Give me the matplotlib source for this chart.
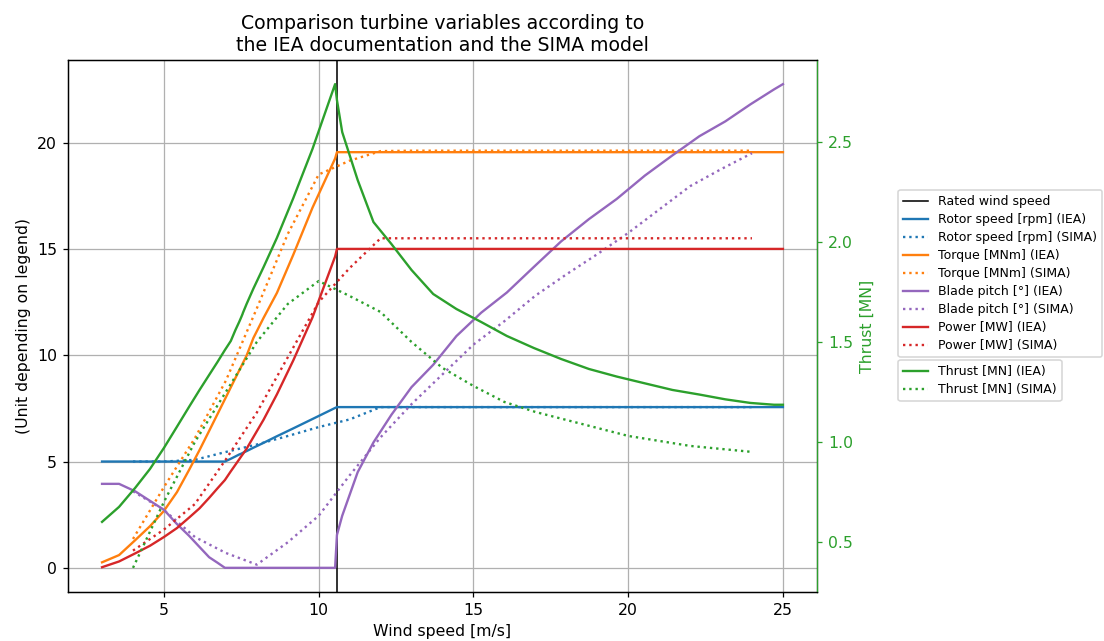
import matplotlib
matplotlib.use('Agg')
from matplotlib import pyplot as plt

# IEA 15 MW documentation (steady state table)
ws_iea = [3.0, 3.55, 4.07, 4.55, 5.0, 5.42, 5.81, 6.15, 6.46, 6.73, 6.97, 7.16, 7.31, 7.43, 7.5,
          7.54, 7.55, 7.67, 7.89, 8.22, 8.65, 9.18, 9.8, 10.53, 10.59, 10.76, 11.26, 11.77, 12.35,
          13.0, 13.7, 14.45, 15.25, 16.08, 16.95, 17.83, 18.73, 19.63, 20.54, 21.43, 22.3, 23.14,
          23.95, 24.71, 25.0]
rotor_iea = [5.0, 5.0, 5.0, 5.0, 5.0, 5.0, 5.0, 5.0, 5.0, 5.0, 5.0, 5.13, 5.24, 5.33, 5.37,
             5.4, 5.41, 5.49, 5.65, 5.88, 6.19, 6.56, 7.0, 7.52, 7.56, 7.56, 7.56, 7.56, 7.56,
             7.56, 7.56, 7.56, 7.56, 7.56, 7.56, 7.56, 7.56, 7.56, 7.56, 7.56, 7.56, 7.56,
             7.56, 7.56, 7.56]
torque_iea = [0.26, 0.6, 1.3, 1.96, 2.68, 3.56, 4.6, 5.54, 6.44, 7.23, 7.93, 8.49, 8.93, 9.28, 9.48,
              9.6, 9.63, 9.98, 10.81, 11.76, 12.93, 14.73, 16.94, 19.25, 19.55, 19.55, 19.55, 19.55, 19.55,
              19.55, 19.55, 19.55, 19.55, 19.55, 19.55, 19.55, 19.55, 19.55, 19.55, 19.55, 19.55, 19.55,
              19.55, 19.55, 19.55]
pitch_iea = [3.95, 3.95, 3.6, 3.15, 2.73, 2.06, 1.51, 0.98, 0.5, 0.24, 0.0, 0.0, 0.0, 0.0, 0.0,
             0.0, 0.0, 0.0, 0.0, 0.0, 0.0, 0.0, 0.0, 0.0, 1.55, 2.45, 4.5, 5.9, 7.2,
             8.5, 9.55, 10.9, 12.0, 12.95, 14.15, 15.35, 16.4, 17.35, 18.45, 19.4, 20.3, 21.0,
             21.8, 22.5, 22.75]
power_iea = [0.03, 0.3, 0.68, 1.04, 1.45, 1.87, 2.36, 2.8, 3.29, 3.74, 4.13, 4.54, 4.85, 5.1, 5.25,
             5.33, 5.35, 5.6, 6.15, 6.97, 8.16, 9.76, 11.78, 14.64, 15.0, 15.0, 15.0, 15.0, 15.0,
             15.0, 15.0, 15.0, 15.0, 15.0, 15.0, 15.0, 15.0, 15.0, 15.0, 15.0, 15.0, 15.0,
             15.0, 15.0, 15.0]
thrust_iea = [0.6, 0.675, 0.77, 0.865, 0.97, 1.076, 1.175, 1.26, 1.335, 1.4, 1.46, 1.505, 1.56, 1.6, 1.625,
              1.64, 1.645, 1.69, 1.767, 1.875, 2.021, 2.22, 2.466, 2.79, 2.71, 2.55, 2.31, 2.1, 1.99,
              1.86, 1.74, 1.665, 1.6, 1.53, 1.47, 1.415, 1.365, 1.327, 1.293, 1.26, 1.237, 1.213,
              1.195, 1.186, 1.186]

# SIMA model
ws_sima = [4, 5, 6, 7, 8, 9, 10, 11, 12, 13, 14, 15, 16, 17, 18, 19, 20, 21, 22, 23, 24]
rotor_sima = [5.0, 5.0, 5.08, 5.45, 5.8, 6.2, 6.62, 6.98, 7.56, 7.56, 7.56, 7.56, 7.56, 7.56,
              7.56, 7.56, 7.56, 7.56, 7.56, 7.56, 7.56]
torque_sima = [1.36, 3.8, 6.1, 8.8, 12.2, 15.7, 18.5, 19.15, 19.6, 19.62, 19.62, 19.62, 19.62, 19.62,
               19.62, 19.62, 19.62, 19.62, 19.62, 19.62, 19.62]
pitch_sima = [3.6, 2.72, 1.45, 0.7, 0.15, 1.2, 2.45, 4.35, 6.14, 7.7, 9.1, 10.5, 11.6, 12.8,
              13.8, 14.75, 15.75, 16.85, 17.95, 18.75, 19.5]
power_sima = [0.81, 1.8, 3.0, 5.1, 7.3, 9.9, 12.5, 14.1, 15.5, 15.5, 15.5, 15.5, 15.5, 15.5,
              15.5, 15.5, 15.5, 15.5, 15.5, 15.5, 15.5]
thrust_sima = [0.37, 0.7, 1.0, 1.25, 1.5, 1.69, 1.805, 1.73, 1.65, 1.5, 1.37, 1.28, 1.2, 1.15,
               1.11, 1.07, 1.03, 1.005, 0.98, 0.965, 0.95]

rated_ws = 10.59

fig, ax = plt.subplots(figsize=(9.77, 5.673), dpi=113)
fig.subplots_adjust(left=0.0616, right=0.740, bottom=0.0764, top=0.9064)

ax.axvline(rated_ws, color='black', linewidth=1, label='Rated wind speed')
ax.plot(ws_iea, rotor_iea, color='tab:blue', label='Rotor speed [rpm] (IEA)')
ax.plot(ws_sima, rotor_sima, ':', color='tab:blue', label='Rotor speed [rpm] (SIMA)')
ax.plot(ws_iea, torque_iea, color='tab:orange', label='Torque [MNm] (IEA)')
ax.plot(ws_sima, torque_sima, ':', color='tab:orange', label='Torque [MNm] (SIMA)')
ax.plot(ws_iea, pitch_iea, color='tab:purple', label='Blade pitch [°] (IEA)')
ax.plot(ws_sima, pitch_sima, ':', color='tab:purple', label='Blade pitch [°] (SIMA)')
ax.plot(ws_iea, power_iea, color='tab:red', label='Power [MW] (IEA)')
ax.plot(ws_sima, power_sima, ':', color='tab:red', label='Power [MW] (SIMA)')
ax.grid(True)
ax.set_xlabel('Wind speed [m/s]')
ax.set_ylabel('(Unit depending on legend)')
ax.set_title('Comparison turbine variables according to\nthe IEA documentation and the SIMA model')

ax2 = ax.twinx()
ax2.plot(ws_iea, thrust_iea, color='tab:green', label='Thrust [MN] (IEA)')
ax2.plot(ws_sima, thrust_sima, ':', color='tab:green', label='Thrust [MN] (SIMA)')
ax2.set_ylabel('Thrust [MN]', color='tab:green')
ax2.tick_params(axis='y', colors='tab:green')
ax2.spines['right'].set_color('tab:green')

ax.legend(loc='upper left', bbox_to_anchor=(0.8134, 0.7036), bbox_transform=fig.transFigure,
          borderaxespad=0, fontsize=8, labelspacing=0.4)
ax2.legend(loc='upper left', bbox_to_anchor=(0.8134, 0.4384), bbox_transform=fig.transFigure,
           borderaxespad=0, fontsize=8, labelspacing=0.4)

fig.savefig('out.png', dpi=113)
